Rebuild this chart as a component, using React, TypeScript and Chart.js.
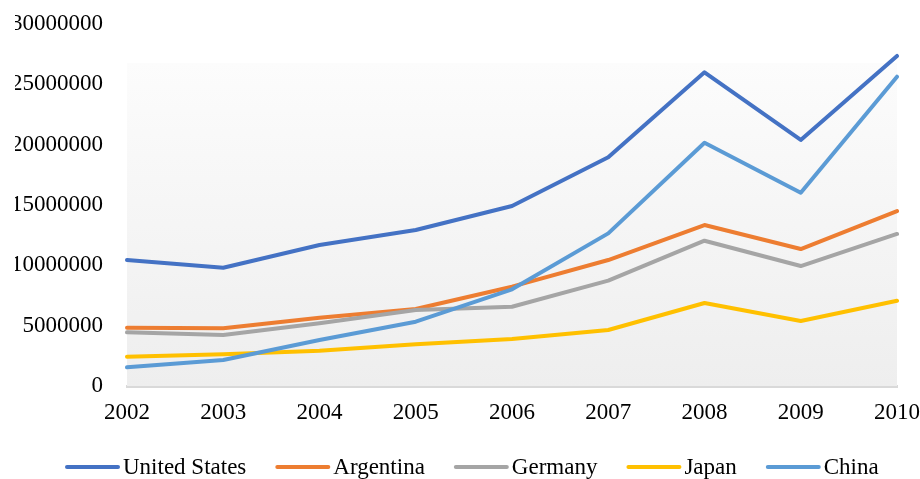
import React, { useEffect, useRef } from "react";
import { Chart, registerables } from "chart.js";

Chart.register(...registerables);

const years = ["2002", "2003", "2004", "2005", "2006", "2007", "2008", "2009", "2010"];

const unitedStates = [10440000, 9800000, 11680000, 12930000, 14920000, 18950000, 26000000, 20390000, 27350000];
const argentina = [4830000, 4780000, 5650000, 6380000, 8230000, 10440000, 13340000, 11350000, 14500000];
const germany = [4450000, 4230000, 5200000, 6300000, 6570000, 8730000, 12040000, 9940000, 12600000];
const japan = [2430000, 2630000, 2930000, 3460000, 3900000, 4640000, 6880000, 5390000, 7070000];
const china = [1550000, 2150000, 3810000, 5330000, 8010000, 12650000, 20160000, 16020000, 25630000];

const seriesNames = ["United States", "Argentina", "Germany", "Japan", "China"];
const seriesColors = ["#4472C4", "#ED7D31", "#A5A5A5", "#FFC000", "#5B9BD5"];

const yMax = 30000000;
const yStep = 5000000;

const FONT = "'Liberation Serif', 'Times New Roman', serif";
const FONT_SIZE = 23;

// Soft vertical gradient behind the plot area
const plotBackground = {
  id: "plotBackground",
  beforeDatasetsDraw(chart: any) {
    const { ctx, chartArea } = chart;
    const { left, right, bottom } = chartArea;
    const top = chartArea.top + (bottom - chartArea.top) * 0.108;
    const g = ctx.createLinearGradient(0, top, 0, bottom);
    g.addColorStop(0, "#fcfcfc");
    g.addColorStop(1, "#eeeeee");
    ctx.save();
    ctx.fillStyle = g;
    ctx.fillRect(left, top, right - left, bottom - top);
    ctx.restore();
  },
};

// Legend row at the bottom: short line sample followed closely by the name
const lineLegend = {
  id: "lineLegend",
  afterDraw(chart: any) {
    const { ctx, height } = chart;
    const sample = 55;
    const gapText = 3;
    const gapItem = 29;
    const y = height - 12;
    ctx.save();
    ctx.font = `${FONT_SIZE}px ${FONT}`;
    ctx.textBaseline = "middle";
    ctx.textAlign = "left";
    let x = 65;
    chart.data.datasets.forEach((ds: any) => {
      ctx.strokeStyle = ds.borderColor;
      ctx.lineWidth = 4;
      ctx.lineCap = "round";
      ctx.beginPath();
      ctx.moveTo(x + 2, y);
      ctx.lineTo(x + sample - 2, y);
      ctx.stroke();
      x += sample + gapText;
      ctx.fillStyle = "#000";
      ctx.fillText(ds.label, x, y + 1);
      x += ctx.measureText(ds.label).width + gapItem;
    });
    ctx.restore();
  },
};

export default function App() {
  const canvasRef = useRef<HTMLCanvasElement | null>(null);

  useEffect(() => {
    if (!canvasRef.current) return;
    const values = [unitedStates, argentina, germany, japan, china];
    const chart = new Chart(canvasRef.current, {
      type: "line",
      data: {
        labels: years,
        datasets: values.map((data, i) => ({
          label: seriesNames[i],
          data,
          borderColor: seriesColors[i],
          backgroundColor: seriesColors[i],
          borderWidth: 4,
          pointRadius: 0,
          tension: 0,
          borderCapStyle: "round",
          borderJoinStyle: "round",
          fill: false,
          order: values.length - i,
        })),
      },
      options: {
        responsive: false,
        animation: false,
        layout: { padding: { left: 15, right: 23, top: 24, bottom: 53 } },
        plugins: {
          legend: { display: false },
          tooltip: { enabled: false },
        },
        scales: {
          x: {
            offset: false,
            grid: { display: false, drawTicks: false },
            border: { display: true, color: "#d9d9d9", width: 3 },
            ticks: {
              font: { family: FONT, size: FONT_SIZE },
              color: "#000",
              padding: 13,
              maxRotation: 0,
            },
            afterFit(scale: any) {
              scale.height = 40;
              scale.paddingLeft = 0;
              scale.paddingRight = 0;
            },
          },
          y: {
            min: 0,
            max: yMax,
            grid: { display: false, drawTicks: false },
            border: { display: false },
            ticks: {
              stepSize: yStep,
              font: { family: FONT, size: FONT_SIZE },
              color: "#000",
              padding: 24,
              callback: (v: any) => String(v),
            },
            afterFit(scale: any) {
              scale.width = 112;
              scale.paddingTop = 0;
              scale.paddingBottom = 0;
            },
          },
        },
      },
      plugins: [plotBackground, lineLegend],
    });
    return () => chart.destroy();
  }, []);

  return (
    <div style={{ position: "fixed", left: 0, top: 0, width: 920, height: 479, background: "#fff" }}>
      <canvas ref={canvasRef} width={920} height={479} />
    </div>
  );
}
